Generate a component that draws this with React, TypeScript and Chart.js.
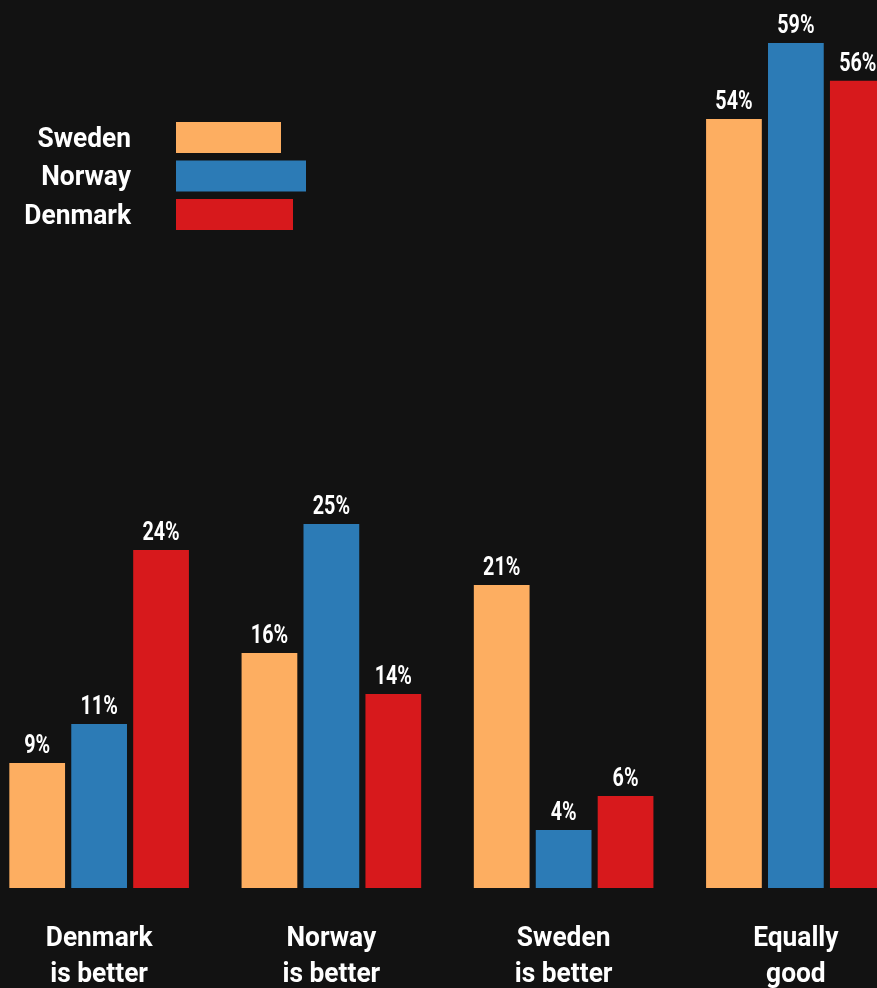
import React, { useEffect, useRef } from "react";
import { Chart, registerables } from "chart.js";

Chart.register(...registerables);

const categories: string[][] = [
  ["Denmark", "is better"],
  ["Norway", "is better"],
  ["Sweden", "is better"],
  ["Equally", "good"],
];
const seriesNames = ["Sweden", "Norway", "Denmark"];
const swedenValues = [8.73, 16.41, 21.16, 53.7];
const norwayValues = [11.45, 25.42, 4.05, 59.0];
const denmarkValues = [23.6, 13.55, 6.42, 56.36];
const seriesColors = ["#fdae61", "#2c7bb6", "#d7191c"];

const BG = "#121212";
const SHIFT = 17; // canvas is shifted left by this many pixels
const legendBarWidths = [105, 130, 117];

function drawScaledText(ctx: any, txt: string, x: number, y: number, sx: number) {
  ctx.save();
  ctx.translate(x, y);
  ctx.scale(sx, 1);
  ctx.fillText(txt, 0, 0);
  ctx.restore();
}

const valueLabelPlugin = {
  id: "valueLabels",
  afterDatasetsDraw(chart: any) {
    const ctx = chart.ctx;
    ctx.save();
    ctx.fillStyle = "#ffffff";
    ctx.font = "bold 26px Roboto";
    ctx.textAlign = "center";
    ctx.textBaseline = "alphabetic";
    chart.data.datasets.forEach((ds: any, di: number) => {
      const meta = chart.getDatasetMeta(di);
      meta.data.forEach((el: any, i: number) => {
        const txt = Math.round(ds.data[i]) + "%";
        drawScaledText(ctx, txt, el.x, el.y - 10, 0.76);
      });
    });
    ctx.restore();
  },
};

const categoryLabelPlugin = {
  id: "categoryLabels",
  afterDraw(chart: any) {
    const ctx = chart.ctx;
    const xs = chart.scales.x;
    const bottom = chart.chartArea.bottom;
    ctx.save();
    ctx.fillStyle = "#ffffff";
    ctx.font = "bold 28px Roboto";
    ctx.textAlign = "center";
    ctx.textBaseline = "alphabetic";
    chart.data.labels.forEach((lab: string[], i: number) => {
      const x = xs.getPixelForValue(i);
      lab.forEach((line, li) => {
        drawScaledText(ctx, line, x, bottom + 58 + li * 36, 0.94);
      });
    });
    ctx.restore();
  },
};

const customLegendPlugin = {
  id: "customLegend",
  afterDraw(chart: any) {
    const ctx = chart.ctx;
    ctx.save();
    ctx.font = "bold 28px Roboto";
    ctx.textAlign = "right";
    ctx.textBaseline = "alphabetic";
    chart.data.datasets.forEach((ds: any, i: number) => {
      const top = 122 + i * 38.5;
      ctx.fillStyle = ds.backgroundColor;
      ctx.fillRect(176 + SHIFT, top, legendBarWidths[i], 31);
      ctx.fillStyle = "#ffffff";
      drawScaledText(ctx, ds.label, 131 + SHIFT, top + 24.5, 0.94);
    });
    ctx.restore();
  },
};

export default function App() {
  const canvasRef = useRef<HTMLCanvasElement | null>(null);

  useEffect(() => {
    if (!canvasRef.current) return;
    const allValues = [swedenValues, norwayValues, denmarkValues];
    const chart = new Chart(canvasRef.current, {
      type: "bar",
      data: {
        labels: categories as any,
        datasets: seriesNames.map((name, i) => ({
          label: name,
          data: allValues[i],
          backgroundColor: seriesColors[i],
          borderWidth: 0,
          categoryPercentage: 0.8,
          barPercentage: 0.9,
        })),
      },
      options: {
        animation: false,
        responsive: false,
        devicePixelRatio: 1,
        layout: { padding: { top: 0, bottom: 100, left: 0, right: 0 } },
        plugins: {
          legend: { display: false },
          tooltip: { enabled: false },
        },
        scales: {
          x: { display: false, offset: true, grid: { display: false } },
          y: { display: false, min: 0, max: 62 },
        },
      },
      plugins: [valueLabelPlugin, categoryLabelPlugin, customLegendPlugin],
    });
    return () => chart.destroy();
  }, []);

  return (
    <div
      style={{
        position: "fixed",
        left: 0,
        top: 0,
        width: 877,
        height: 988,
        overflow: "hidden",
        background: BG,
      }}
    >
      <canvas
        ref={canvasRef}
        width={929}
        height={988}
        style={{ position: "absolute", left: -SHIFT, top: 0, width: 929, height: 988 }}
      />
    </div>
  );
}
